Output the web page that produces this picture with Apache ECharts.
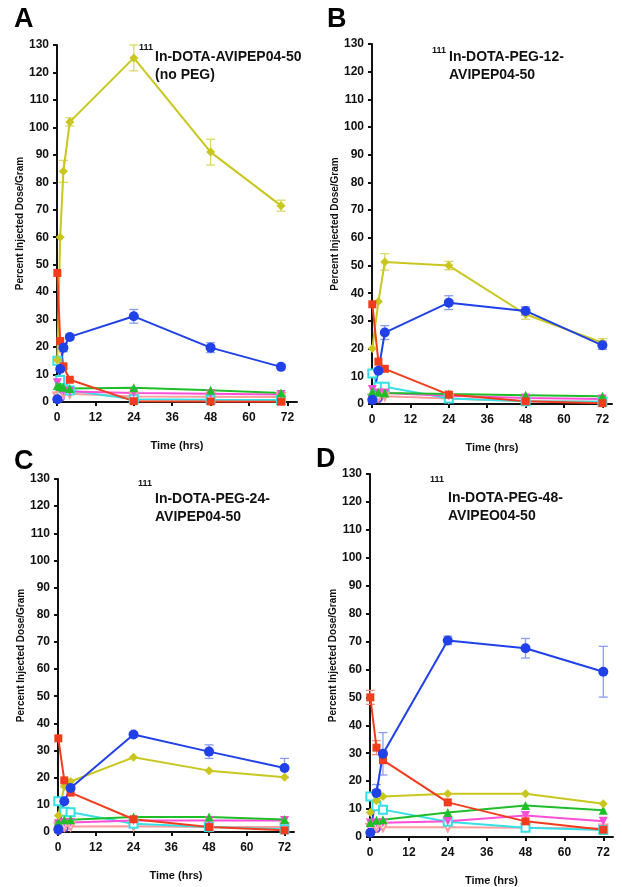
<!DOCTYPE html>
<html>
<head>
<meta charset="utf-8">
<script src="https://cdn.jsdelivr.net/npm/echarts@6/dist/echarts.min.js"></script>
<style>
html,body{margin:0;padding:0;background:#fff;}
#chart{width:622px;height:887px;}
</style>
</head>
<body>
<div id="chart"></div>
<script>
// ---------- DATA ----------
const xTicks = [0, 12, 24, 36, 48, 60, 72];
const yTicks = [0,10,20,30,40,50,60,70,80,90,100,110,120,130];

// Panel A (no PEG)
const timesA   = [0.1, 1, 2, 4, 24, 48, 70];
const blueA    = [1, 12, 19.8, 23.7, 31.2, 19.8, 12.8];
const redA     = [47, 22.2, 13, 8.1, 0.3, 0.2, 0.1];
const yellowA  = [15.3, 60, 84, 102, 125.3, 91, 71.5];
const greenA   = [6, 5.6, 5.4, 4.9, 5.2, 4.3, 3.3];
const magentaA = [7, 4.5, 4, 3.8, 3.3, 3, 2.7];
const cyanA    = [15, 8, 5, 4.2, 1, 0.8, 0.7];
const salmonA  = [2, 2.5, 3, 3, 2, 1.9, 1.8];
const purpleA  = [1, 1.5, null, null, null, null, null];
const yellowErrA = [0, 0, 4, 1.5, 4.7, 4.7, 2];
const blueErrA   = [0, 0, 1.5, 1, 2.5, 1.8, 0.8];

// Panel B (PEG-12)
const timesB   = [0.1, 2, 4, 24, 48, 72];
const blueB    = [1.5, 12, 25.8, 36.6, 33.6, 21.2];
const redB     = [36, 15.3, 12.7, 3.4, 1, 0.3];
const yellowB  = [20, 37, 51.3, 50, 32.4, 22.1];
const greenB   = [4.5, 4.2, 4, 3.6, 3.2, 2.8];
const magentaB = [5.2, 4, 4, 3, 2.2, 1.8];
const cyanB    = [11, 6.2, 6.2, 2, 1, 0.8];
const salmonB  = [2, 2.5, 2.8, 2, 1, 0.8];
const purpleB  = [1.5, 2, null, null, null, null];
const yellowErrB = [0, 0, 3, 1.5, 1.8, 1.5];
const blueErrB   = [0, 0, 2.5, 2.5, 1.5, 1.5];

// Panel C (PEG-24)
const timesC   = [0.1, 2, 4, 24, 48, 72];
const blueC    = [1, 11.3, 16.2, 35.9, 29.6, 23.6];
const redC     = [34.5, 19, 14.5, 4.7, 1.8, 0.6];
const yellowC  = [6.1, 16.8, 18.6, 27.5, 22.6, 20.2];
const greenC   = [3.7, 4.5, 4.5, 5.5, 5.5, 4.6];
const magentaC = [3, 3.5, 3.5, 4.2, 4.2, 4.2];
const cyanC    = [11.3, 7.5, 7.3, 3, 1.8, 1];
const salmonC  = [2, 2, 2, 2.1, 1.8, 1.8];
const purpleC  = [0.5, 1.5, null, null, null, null];
const blueErrC = [0, 0, 0, 0.8, 2.5, 3.5];

// Panel D (PEG-48)
const timesD   = [0.1, 2, 4, 24, 48, 72];
const blueD    = [1.5, 15.8, 29.8, 70.4, 67.6, 59.2];
const redD     = [50, 32, 27.5, 12.4, 5.6, 2.6];
const yellowD  = [8.8, 13, 14.5, 15.5, 15.5, 11.9];
const greenD   = [5.2, 6, 6.2, 8.8, 11.3, 9.6];
const magentaD = [5, 5, 5.1, 5.6, 7.7, 5.6];
const cyanD    = [14.5, 11, 9.8, 5.5, 3.3, 2.5];
const salmonD  = [3.3, 3.5, 3.5, 3.5, 3.3, 3];
const purpleD  = [1.5, 3, null, null, null, null];
const blueErrD = [0, 3, 7.6, 1.5, 3.5, 9.1];
const redErrD  = [2.5, 2.5, 0, 0, 0, 0];

const panelLetters = ['A', 'B', 'C', 'D'];
const titleLine1 = ['In-DOTA-AVIPEP04-50', 'In-DOTA-PEG-12-', 'In-DOTA-PEG-24-', 'In-DOTA-PEG-48-'];
const titleLine2 = ['(no PEG)', 'AVIPEP04-50', 'AVIPEP04-50', 'AVIPEO04-50'];
const isotope = '111';
const xName = 'Time (hrs)';
const yName = 'Percent Injected Dose/Gram';

// ---------- STYLE ----------
const FONT = '"Liberation Sans", Arial, sans-serif';
const C = {
  blue: '#2040e8', red: '#f23c1c', yellow: '#c9c71e', green: '#1fbf2a',
  magenta: '#ff4fd8', cyan: '#35e0e6', salmon: '#ff9c9c', purple: '#6a48d8'
};
const ERRC = { blue: '#8a9cf2', yellow: '#d9d86a', red: '#f59080' };

const grids = [
  {left: 57,  top: 45,  width: 240, height: 357},
  {left: 372, top: 44,  width: 240, height: 360},
  {left: 58,  top: 479, width: 236, height: 353},
  {left: 370, top: 474, width: 243, height: 363}
];
const titlePos = [
  {sx: 139, sy: 43, x: 155, y: 48},
  {sx: 432, sy: 46, x: 449, y: 48},
  {sx: 138, sy: 479, x: 155, y: 490},
  {sx: 430, sy: 475, x: 448, y: 489}
];
const letterPos = [{x: 14, y: 6}, {x: 327, y: 6}, {x: 14, y: 448}, {x: 316, y: 446}];

const panels = [
  {t: timesA, s: {purple: purpleA, salmon: salmonA, cyan: cyanA, magenta: magentaA, green: greenA, yellow: yellowA, red: redA, blue: blueA},
   err: [['yellow', yellowA, yellowErrA], ['blue', blueA, blueErrA]]},
  {t: timesB, s: {purple: purpleB, salmon: salmonB, cyan: cyanB, magenta: magentaB, green: greenB, yellow: yellowB, red: redB, blue: blueB},
   err: [['yellow', yellowB, yellowErrB], ['blue', blueB, blueErrB]]},
  {t: timesC, s: {purple: purpleC, salmon: salmonC, cyan: cyanC, magenta: magentaC, green: greenC, yellow: yellowC, red: redC, blue: blueC},
   err: [['blue', blueC, blueErrC]]},
  {t: timesD, s: {purple: purpleD, salmon: salmonD, cyan: cyanD, magenta: magentaD, green: greenD, yellow: yellowD, red: redD, blue: blueD},
   err: [['blue', blueD, blueErrD], ['red', redD, redErrD]]}
];

const symbols = {
  purple:  {symbol: 'emptyCircle', size: 7, rot: 0},
  salmon:  {symbol: 'emptyTriangle', size: 8, rot: 180},
  cyan:    {symbol: 'emptyRect', size: 8, rot: 0},
  magenta: {symbol: 'triangle', size: 9, rot: 180},
  green:   {symbol: 'triangle', size: 9, rot: 0},
  yellow:  {symbol: 'diamond', size: 9, rot: 0},
  red:     {symbol: 'rect', size: 8, rot: 0},
  blue:    {symbol: 'circle', size: 10, rot: 0}
};

// ---------- BUILD ----------
const grid = [], xAxis = [], yAxis = [], series = [], graphic = [];
const axisLineStyle = {color: '#111', width: 2};

panels.forEach((p, i) => {
  grid.push(grids[i]);
  xAxis.push({
    type: 'value', gridIndex: i, min: 0, max: 75,
    name: xName, nameLocation: 'middle', nameGap: 38,
    nameTextStyle: {fontFamily: FONT, fontWeight: 'bold', fontSize: 11, color: '#111'},
    axisLine: {lineStyle: axisLineStyle},
    axisTick: {length: 4, lineStyle: {color: '#111', width: 2}, customValues: xTicks},
    axisLabel: {customValues: xTicks, margin: 10, fontFamily: FONT, fontWeight: 'bold', fontSize: 12, color: '#111'},
    splitLine: {show: false}
  });
  yAxis.push({
    type: 'value', gridIndex: i, min: 0, max: 130, interval: 10,
    name: yName, nameLocation: 'middle', nameGap: 31,
    nameTextStyle: {fontFamily: FONT, fontWeight: 'bold', fontSize: 10, color: '#111'},
    axisLine: {lineStyle: axisLineStyle},
    axisTick: {length: 4, lineStyle: {color: '#111', width: 2}},
    axisLabel: {margin: 8, fontFamily: FONT, fontWeight: 'bold', fontSize: 12, color: '#111'},
    splitLine: {show: false}
  });

  // error bars first (below lines)
  p.err.forEach(([key, vals, errs]) => {
    const data = p.t.map((t, k) => [t, vals[k] - errs[k], vals[k] + errs[k], errs[k]]).filter(d => d[3] > 0);
    const col = ERRC[key];
    series.push({
      type: 'custom', xAxisIndex: i, yAxisIndex: i, z: 1, silent: true,
      encode: {x: 0, y: [1, 2]},
      data: data,
      renderItem: (params, api) => {
        const x = api.value(0);
        const a = api.coord([x, api.value(1)]);
        const b = api.coord([x, api.value(2)]);
        const w = 4.5;
        const st = {stroke: col, lineWidth: 1.3};
        return {type: 'group', children: [
          {type: 'line', shape: {x1: a[0], y1: a[1], x2: b[0], y2: b[1]}, style: st},
          {type: 'line', shape: {x1: a[0] - w, y1: a[1], x2: a[0] + w, y2: a[1]}, style: st},
          {type: 'line', shape: {x1: b[0] - w, y1: b[1], x2: b[0] + w, y2: b[1]}, style: st}
        ]};
      }
    });
  });

  Object.keys(p.s).forEach(key => {
    const sy = symbols[key];
    series.push({
      type: 'line', xAxisIndex: i, yAxisIndex: i, z: 2,
      data: p.t.map((t, k) => [t, p.s[key][k]]),
      symbol: sy.symbol, symbolSize: sy.size, symbolRotate: sy.rot,
      showAllSymbol: true, clip: false, connectNulls: false,
      lineStyle: {color: C[key], width: 2},
      itemStyle: {color: C[key], borderColor: C[key], borderWidth: sy.symbol.startsWith('empty') ? 1.5 : 0},
      emphasis: {disabled: true},
      animation: false
    });
  });

  const tp = titlePos[i];
  graphic.push({type: 'text', left: tp.sx, top: tp.sy,
    style: {text: isotope, font: 'bold 9px ' + FONT, fill: '#111'}});
  graphic.push({type: 'text', left: tp.x, top: tp.y,
    style: {text: titleLine1[i] + '\n' + titleLine2[i], font: 'bold 14px ' + FONT, fill: '#111', lineHeight: 18}});
  graphic.push({type: 'text', left: letterPos[i].x, top: letterPos[i].y,
    style: {text: panelLetters[i], font: 'bold 27px ' + FONT, fill: '#000'}});
});

const chart = echarts.init(document.getElementById('chart'), null, {renderer: 'canvas'});
chart.setOption({
  animation: false,
  backgroundColor: '#fff',
  grid, xAxis, yAxis, series, graphic
});
</script>
</body>
</html>
